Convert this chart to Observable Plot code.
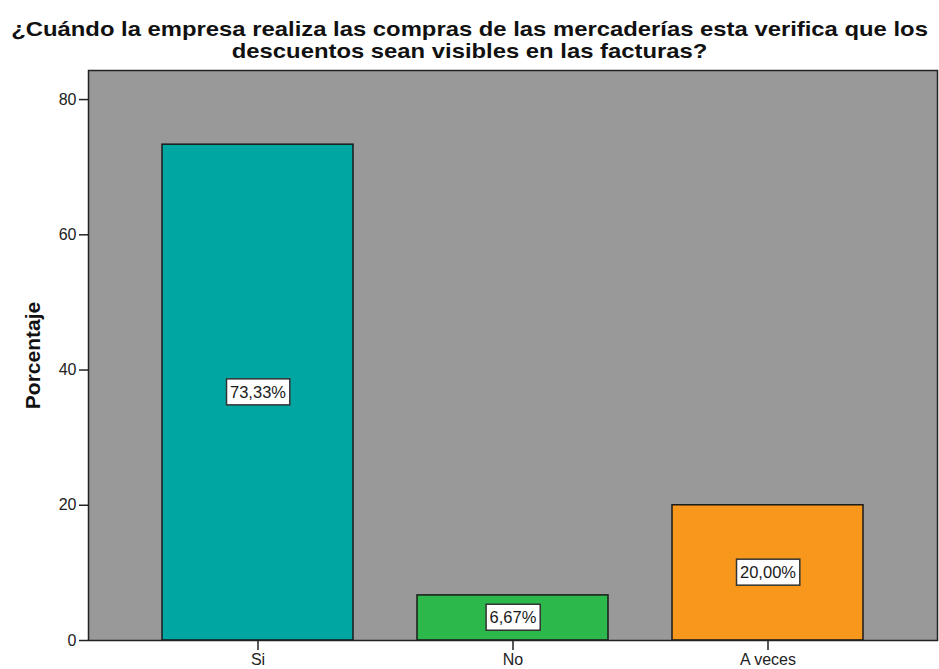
<!DOCTYPE html>
<html><head><meta charset="utf-8">
<script src="https://cdn.jsdelivr.net/npm/d3@7"></script>
<script src="https://cdn.jsdelivr.net/npm/@observablehq/plot@0.6"></script>
<style>
body{margin:0;background:#fff;font-family:"Liberation Sans",Arial,sans-serif;}
#title{width:939px;height:44px;padding-top:18px;text-align:center;color:#111;}
#title div{font-weight:bold;font-size:21px;line-height:22px;white-space:nowrap;transform:scaleX(1.135);transform-origin:469px 0;}
</style></head><body>
<div id="title"><div>¿Cuándo la empresa realiza las compras de las mercaderías esta verifica que los</div><div>descuentos sean visibles en las facturas?</div></div>
<div id="chart"></div>
<script>
const categories = ["Si", "No", "A veces"];
const values = [73.33, 6.67, 20.00];
const labels = ["73,33%", "6,67%", "20,00%"];
const colors = ["#00a6a2", "#2db84b", "#f7981d"];
const yTicks = [0, 20, 40, 60, 80];
const yLabel = "Porcentaje";

const data = categories.map((c, i) => ({cat: c, value: values[i], label: labels[i]}));

const plot = Plot.plot({
  width: 939,
  height: 607,
  marginTop: 8,
  marginBottom: 29,
  marginLeft: 88,
  marginRight: 2,
  style: {fontFamily: "'Liberation Sans', Arial, sans-serif", fontSize: "16px", color: "#222", background: "#fff"},
  x: {type: "band", domain: categories, paddingInner: 0.251, paddingOuter: 0.29},
  y: {domain: [0, 84.3]},
  color: {domain: categories, range: colors},
  marks: [
    Plot.frame({fill: "#999999"}),
    Plot.barY(data, {x: "cat", y: "value", fill: "cat", stroke: "#1a1a1a", strokeWidth: 1.5}),
    Plot.text(data, {x: "cat", y: d => d.value / 2, text: "label", fill: "#1a1a1a", fontSize: 16.5}),
    Plot.frame({stroke: "#222", strokeWidth: 1.5}),
    Plot.axisY({ticks: yTicks, tickSize: 9, tickPadding: 3, label: null, stroke: "#222", strokeWidth: 1.5}),
    Plot.axisX({tickSize: 10, tickPadding: 3, label: null, stroke: "#222", strokeWidth: 1.5}),
    Plot.text([yLabel], {frameAnchor: "left", textAnchor: "middle", dx: -55, rotate: -90, fontWeight: "bold", fontSize: 21, fill: "#111"})
  ]
});
document.getElementById("chart").appendChild(plot);

// white boxes behind value labels, sized from the rendered text
d3.select(plot).selectAll("text").filter(function() {
  return labels.includes(this.textContent);
}).each(function() {
  const b = this.getBBox();
  const t = this.getAttribute("transform");
  const r = document.createElementNS("http://www.w3.org/2000/svg", "rect");
  r.setAttribute("x", b.x - 3.5);
  r.setAttribute("y", b.y - 4);
  r.setAttribute("width", b.width + 7);
  r.setAttribute("height", b.height + 8);
  r.setAttribute("fill", "#fff");
  r.setAttribute("stroke", "#333");
  r.setAttribute("stroke-width", 1.5);
  if (t) r.setAttribute("transform", t);
  this.parentNode.insertBefore(r, this);
});
</script>
</body></html>
